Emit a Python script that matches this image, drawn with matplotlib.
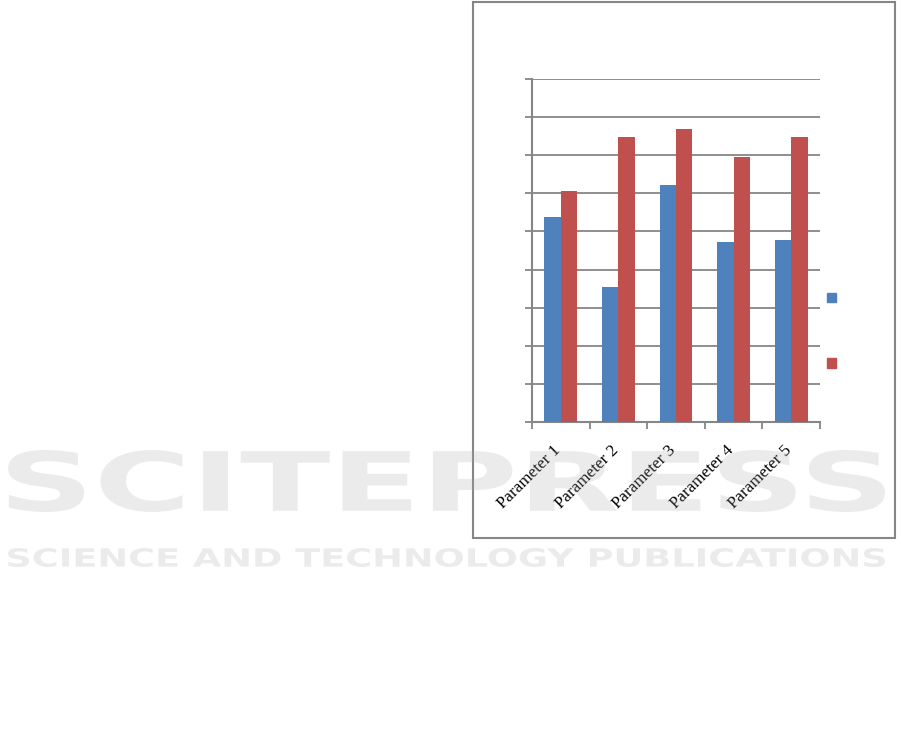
import numpy as np
import matplotlib
matplotlib.use('Agg')
from matplotlib import pyplot as plt
from matplotlib.patches import Rectangle, Patch, PathPatch
from matplotlib.textpath import TextPath
from matplotlib.font_manager import FontProperties
from matplotlib.transforms import Affine2D, ScaledTranslation

# data (y axis has no labels, 9 gridline steps)
categories = ['Parameter 1', 'Parameter 2', 'Parameter 3', 'Parameter 4', 'Parameter 5']
series_a = [53.7, 35.5, 62.2, 47.2, 47.8]
series_b = [60.6, 74.7, 76.8, 69.6, 74.8]
y_max = 90
y_step = 10

blue = '#4F81BD'
red = '#C0504D'
grey = '#868686'

fig = plt.figure(figsize=(9.01, 7.42), dpi=100)
fig.patch.set_facecolor('white')

# outer chart frame
fig.add_artist(Rectangle((0.525, 0.275), 0.4683, 0.7223, transform=fig.transFigure,
                         facecolor='white', edgecolor=grey, lw=1.5, zorder=0))

ax = fig.add_axes([0.5905, 0.4313, 0.3196, 0.4623])
ax.set_facecolor('none')

x = np.arange(len(categories))
w = 1 / 3.5  # excel gap width 150%
ax.bar(x - w / 2, series_a, w, color=blue, zorder=3)
ax.bar(x + w / 2, series_b, w, color=red, zorder=3)

ax.set_xlim(-0.5, len(categories) - 0.5)
ax.set_ylim(0, y_max)
ax.set_yticks(np.arange(0, y_max + 1, y_step))
ax.set_yticklabels([])
ax.yaxis.grid(True, color=grey, lw=1.3)
ax.set_axisbelow(True)
ax.tick_params(axis='y', direction='out', length=5, color=grey, width=1.3)

ax.set_xticks(x)
ax.set_xticklabels(categories, rotation=45, ha='right', rotation_mode='anchor',
                   family='Liberation Serif', fontsize=12.3)
ax.tick_params(axis='x', length=0, pad=15)
# nudge labels a little to the left like the original
for lab in ax.get_xticklabels():
    lab.set_transform(lab.get_transform() + ScaledTranslation(-8 / 100, 0, fig.dpi_scale_trans))
ax.set_xticks(np.arange(-0.5, len(categories)), minor=True)
ax.tick_params(axis='x', which='minor', direction='out', length=5, color=grey, width=1.3)

for s in ['top', 'right']:
    ax.spines[s].set_visible(False)
for s in ['left', 'bottom']:
    ax.spines[s].set_color(grey)
    ax.spines[s].set_linewidth(1.5)

handles = [Patch(color=blue), Patch(color=red)]
ax.legend(handles, ['', ''], loc='center left', bbox_to_anchor=(0.982, 0.265),
          frameon=False, handlelength=0.65, handleheight=0.65, labelspacing=3.7,
          fontsize=10)


# faint publisher watermark over the page
def watermark(txt, box):
    tp = TextPath((0, 0), txt, size=100,
                  prop=FontProperties(family='DejaVu Sans', weight='bold'))
    ext = tp.get_extents()
    x0, y0, x1, y1 = box
    tr = (Affine2D().translate(-ext.x0, -ext.y0)
          .scale((x1 - x0) / ext.width, (y1 - y0) / ext.height)
          .translate(x0, y0))
    fig.add_artist(PathPatch(tp, transform=tr + fig.transFigure,
                             facecolor='#a8a8a8', edgecolor='none', alpha=0.22, zorder=10))


watermark('SCITEPRESS', (8 / 901, 230 / 742, 885 / 901, 292 / 742))
watermark('SCIENCE AND TECHNOLOGY PUBLICATIONS', (8 / 901, 175 / 742, 885 / 901, 194 / 742))

fig.savefig('out.png', dpi=100)
